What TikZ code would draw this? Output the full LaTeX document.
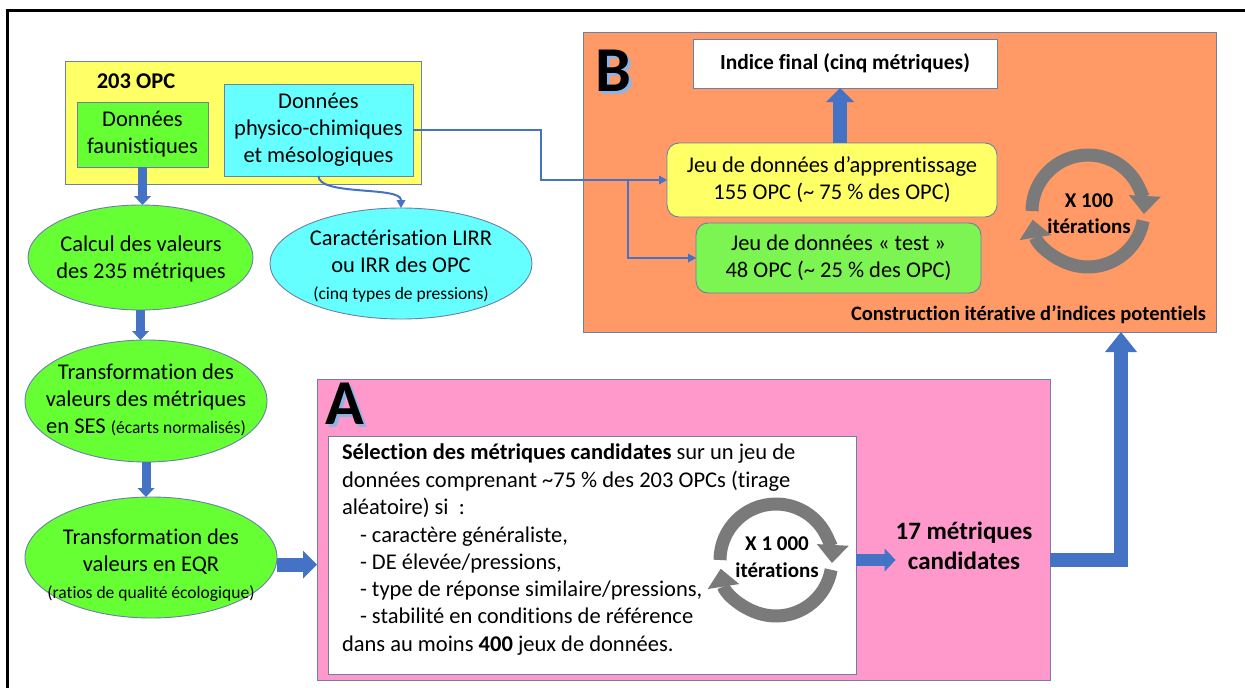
\documentclass[tikz,border=0pt]{standalone}
\usepackage{fontspec}
\setmainfont{Carlito}[Ligatures=NoCommon]
\usetikzlibrary{arrows.meta,shapes.geometric,calc}
\definecolor{bl}{HTML}{4472C4}
\definecolor{yel}{HTML}{FFFF66}
\definecolor{grn}{HTML}{66FF33}
\definecolor{tgrn}{HTML}{7CF552}
\definecolor{cya}{HTML}{66FFFF}
\definecolor{org}{HTML}{FF9966}
\definecolor{pnk}{HTML}{FF99CC}
\definecolor{bord}{HTML}{6D7FA8}
\definecolor{cycgray}{HTML}{7A7A7A}
\definecolor{shd}{HTML}{8FB4E3}
\newcommand\smallpar{\fontsize{17.5}{21}\selectfont}
\begin{document}
\begin{tikzpicture}[x=1pt,y=-1pt,
  every node/.style={inner sep=0pt,outer sep=0pt,text=black},
  txt/.style={font=\fontsize{22.5}{27}\selectfont,align=center},
  btxt/.style={font=\bfseries\fontsize{22.5}{27}\selectfont,align=center},
  box/.style={rectangle,draw=bord,line width=0.9pt},
  ell/.style={ellipse,draw=bord,line width=0.9pt},
  conn/.style={draw=bl,line width=2pt,-{Triangle[width=9pt,length=8pt,line width=0pt]}},
  fat/.style={draw=bl,line width=9pt,-{Triangle[width=17pt,length=9pt,line width=0pt]}},
  fatb/.style={draw=bl,line width=14pt,-{Triangle[width=28pt,length=14pt,line width=0pt]}},
  fatc/.style={draw=bl,line width=12pt,-{Triangle[width=23pt,length=11pt,line width=0pt]}},
  big/.style={draw=bl,line width=14pt,line join=miter,-{Triangle[width=32pt,length=20pt,line width=0pt]}},
  cyc/.style={draw=cycgray,line width=13pt,-{Triangle[width=32pt,length=18pt,line width=0pt]}},
  line/.style={anchor=base west,font=\fontsize{22.5}{27}\selectfont},
  letter/.style={font=\bfseries\fontsize{64}{64}\selectfont}
]
\useasboundingbox (0,0) rectangle (1245,688);
\fill[white] (0,0) rectangle (1245,688);
\draw[line width=3pt] (7,688) -- (7,10) -- (1245,10);

% ---------- left column
\node[box,fill=yel,minimum width=356,minimum height=123] (opc) at (243,122.5) {};
\node[btxt] (t203) at (136,81) {203 OPC};
\node[box,fill=grn,minimum width=131,minimum height=65,txt] (fau) at (142.5,134.5) {Données\\faunistiques};
\node[box,fill=cya,minimum width=189,minimum height=92,txt] (cyb) at (318.5,130) {Données\\physico-chimiques\\et mésologiques};

\node[ell,fill=grn,minimum width=225,minimum height=105] (calc) at (140.5,257.5) {};
\node[txt] (calct) at (141,259) {Calcul des valeurs\\des 235 métriques};
\node[ell,fill=grn,minimum width=242,minimum height=122] (ses) at (146,401) {};
\node[txt] (sest) at (146,400) {Transformation des\\valeurs des métriques\\en SES {\smallpar(écarts normalisés)}};
\node[ell,fill=grn,minimum width=252,minimum height=121] (eqr) at (151,557.5) {};
\node[txt] (eqrt) at (151,565) {Transformation des\\valeurs en EQR\\{\smallpar(ratios de qualité écologique)}};
\node[ell,fill=cya,minimum width=262,minimum height=111] (cell) at (401,263.5) {};
\node[txt] (cellt) at (401,266) {Caractérisation LIRR\\ou IRR des OPC\\{\smallpar(cinq types de pressions)}};

\draw[fat] (fau.south) -- (fau.south |- calc.north);
\draw[fat] (calc.south) -- (calc.south |- ses.north);
\draw[fat] (ses.south) -- (ses.south |- eqr.north);
\draw[conn] (cyb.south) .. controls +(0,20) and +(0,-22) .. (cell.north);

% ---------- panel B
\node[box,fill=org,minimum width=633,minimum height=300] (orgB) at (899.5,182) {};
\node[letter,text=shd] (lBs) at (616,74) {B};
\node[letter] (lB) at (613,71) {B};
\node[box,fill=white,minimum width=304,minimum height=49,font=\bfseries\fontsize{21.5}{25}\selectfont] (idx) at (845,63.5) {Indice final (cinq métriques)};
\node[box,fill=yel,rounded corners=12pt,minimum width=330,minimum height=74,txt] (app) at (832,180) {Jeu de données d’apprentissage\\155 OPC (\textasciitilde{} 75 \% des OPC)};
\node[box,fill=tgrn,rounded corners=12pt,minimum width=285,minimum height=70,txt] (tst) at (838.5,258) {Jeu de données « test »\\48 OPC (\textasciitilde{} 25 \% des OPC)};
\node[font=\bfseries\fontsize{20.5}{25}\selectfont,anchor=east] (cons) at (1206,315) {Construction itérative d’indices potentiels};

\draw[fatb] ([xshift=8pt]app.north) -- ([xshift=8pt]app.north |- idx.south);
\draw[conn] (cyb.east) -- (541,130) |- (app.west);
\path (app.west) ++(-39,0) coordinate (br);
\draw[conn] (br) |- (tst.west);

\begin{scope}[shift={(1088,211)},yscale=-1]
\draw[cyc] (180:56) arc[start angle=180,end angle=-3,radius=56];
\draw[cyc] (-10:56) arc[start angle=-10,end angle=-171,radius=56];
\end{scope}
\node[font=\bfseries\fontsize{21}{26}\selectfont,align=center] (itB) at (1089,214) {X 100\\itérations};

% ---------- panel A
\node[box,fill=pnk,minimum width=733,minimum height=301] (pinkA) at (683.5,529.5) {};
\node[letter,text=shd] (lAs) at (348,407) {A};
\node[letter] (lA) at (345,404) {A};
\node[box,fill=white,minimum width=528,minimum height=238] (whA) at (592,555) {};
\node[line] (l1) at (342,459) {\textbf{Sélection des métriques candidates} sur un jeu de};
\node[line] (l2) at (342,487) {données comprenant \textasciitilde75 \% des 203 OPCs (tirage};
\node[line] (l3) at (342,514) {aléatoire) si~~:};
\node[line] (l4) at (360,542) {- caractère généraliste,};
\node[line] (l5) at (360,569) {- DE élevée/pressions,};
\node[line] (l6) at (360,596) {- type de réponse similaire/pressions,};
\node[line] (l7) at (360,623) {- stabilité en conditions de référence};
\node[line] (l8) at (342,651) {dans au moins \textbf{400} jeux de données.};

\coordinate (cA) at (776,560);
\begin{scope}[shift={(cA)},yscale=-1]
\draw[cyc] (180:56) arc[start angle=180,end angle=-3,radius=56];
\draw[cyc] (-10:56) arc[start angle=-10,end angle=-171,radius=56];
\end{scope}
\node[font=\bfseries\fontsize{21}{27}\selectfont,align=center] (itA) at (777,557) {X 1 000\\itérations};

\node[font=\bfseries\fontsize{25}{30}\selectfont,align=center] (m17) at (964,546) {17 métriques\\candidates};

\coordinate (ea) at ($(eqr.east)+(0,7)$);
\draw[fatb] (ea) -- (ea -| pinkA.west);
\draw[fatc] (whA.east |- cA) -- (m17.west |- cA);
\draw[big] (pinkA.east |- cA) -| (1121,0 |- orgB.south);
\end{tikzpicture}
\end{document}
